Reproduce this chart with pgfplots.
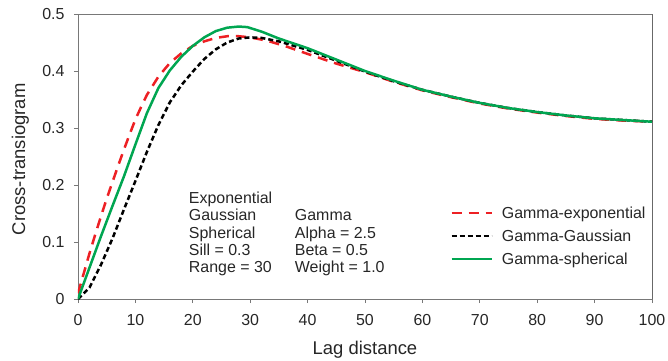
\documentclass[border=0pt]{standalone}
\usepackage{pgfplots}
\pgfplotsset{compat=1.18}
\usepackage{fontspec}
\setmainfont{Liberation Sans}
\definecolor{cred}{RGB}{237,32,36}
\definecolor{cgreen}{RGB}{0,166,81}
\definecolor{cgray}{RGB}{120,120,120}
\begin{document}
\begin{tikzpicture}
\path[use as bounding box] (-78bp,-62bp) rectangle (590bp,299bp);
\begin{axis}[
  at={(0,0)}, anchor=south west,
  scale only axis, width=574bp, height=285bp,
  xmin=0, xmax=100, ymin=0, ymax=0.5,
  xtick={0,10,20,30,40,50,60,70,80,90,100},
  ytick={0,0.1,0.2,0.3,0.4,0.5},
  yticklabels={0,0.1,0.2,0.3,0.4,0.5},
  tick align=outside, tick pos=left,
  major tick length=4bp,
  tick style={cgray, line width=0.8bp},
  axis line style={cgray, line width=0.8bp},
  /pgf/number format/assume math mode=true,
  ticklabel style={font=\fontsize{16}{19}\selectfont, text=black!85},
  xticklabel style={yshift=-8bp},
  yticklabel style={xshift=-6bp},
  xlabel={Lag distance}, ylabel={Cross-transiogram},
  label style={font=\fontsize{18.5}{22}\selectfont, text=black!85},
  xlabel style={at={(axis description cs:0.5,-0.196)}, anchor=base},
  ylabel style={at={(axis description cs:-0.0923,0.49)}, anchor=base, rotate=0},
  legend style={at={(axis cs:64.85,0.166)}, anchor=north west, draw=none, fill=none,
    font=\fontsize{16}{19}\selectfont, row sep=6bp, inner sep=0pt,
    nodes={text=black!85}},
  legend cell align=left,
  legend image code/.code={\draw[#1] (0bp,0bp) -- (40bp,0bp); \path (47bp,0bp);},
]
\addplot[cred, line width=2.5bp, dash pattern=on 10bp off 7bp] table {
0 0.01
1 0.045
2 0.08
3 0.113
4 0.145
5 0.176
6 0.205
7 0.234
8 0.262
9 0.289
10 0.315
11 0.337
12 0.358
14 0.390
16 0.414
18 0.431
20 0.444
22 0.452
24 0.458
26 0.461
28 0.461
30 0.459
33 0.453
36 0.444
40 0.430
45 0.413
50 0.398
55 0.381
60 0.366
65 0.354
70 0.343
75 0.334
80 0.327
85 0.321
90 0.316
95 0.313
100 0.311
};
\addlegendentry{Gamma-exponential}
\addplot[black, line width=2.5bp, dash pattern=on 5bp off 3bp] table {
0 0
2 0.02
4 0.06
6 0.106
8 0.157
10 0.207
12 0.258
14 0.305
16 0.345
18 0.375
20 0.399
22 0.421
24 0.438
26 0.450
28 0.457
30 0.459
32 0.458
35 0.452
40 0.437
45 0.418
50 0.399
55 0.382
60 0.367
65 0.355
70 0.344
75 0.335
80 0.328
85 0.322
90 0.317
95 0.314
100 0.311
};
\addlegendentry{Gamma-Gaussian}
\addplot[cgreen, line width=2.5bp] table {
0 0
2 0.055
4 0.11
6 0.163
8 0.215
10 0.271
12 0.326
14 0.370
16 0.401
18 0.425
20 0.444
22 0.459
24 0.470
26 0.476
28 0.478
29.5 0.477
32 0.469
35 0.457
40 0.440
45 0.420
50 0.400
55 0.383
60 0.367
65 0.355
70 0.344
75 0.335
80 0.328
85 0.322
90 0.317
95 0.314
100 0.311
};
\addlegendentry{Gamma-spherical}
\draw[black, line width=0.8bp] (rel axis cs:1,0) -- (rel axis cs:1,1);
\node[anchor=base west, inner sep=0pt, font=\fontsize{16}{17.5}\selectfont, text=black!85]
  at (axis cs:19.3,0.168) {\begin{tabular}[t]{@{}p{106bp}@{}l@{}}
Exponential & \\
Gaussian & Gamma\\
Spherical & Alpha = 2.5\\
Sill = 0.3 & Beta = 0.5\\
Range = 30 & Weight = 1.0
\end{tabular}};
\end{axis}
\end{tikzpicture}
\end{document}
